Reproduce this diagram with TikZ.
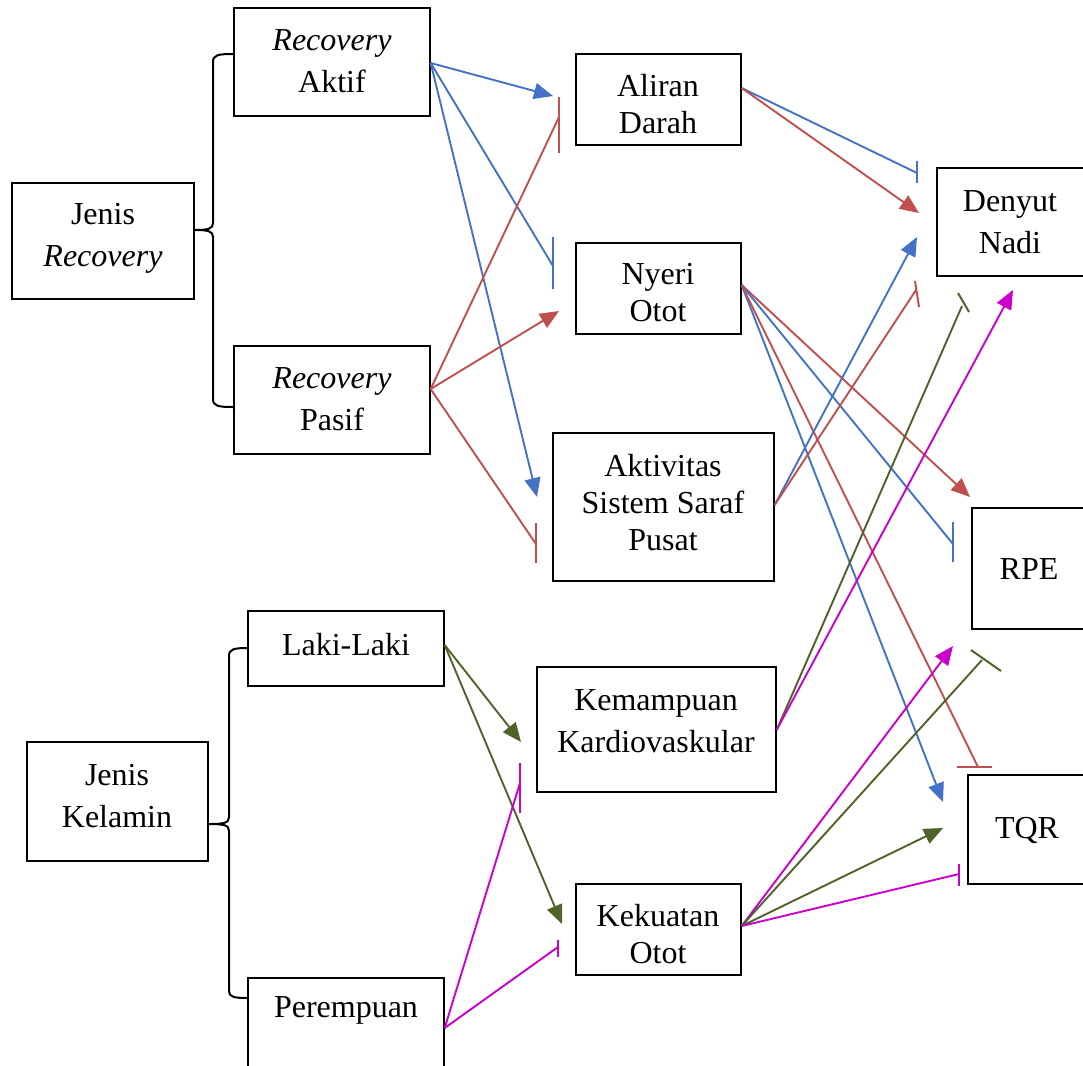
\documentclass[tikz,border=0pt]{standalone}
\usepackage{fontspec}
\setmainfont{Liberation Serif}
\usetikzlibrary{arrows.meta,calc}
\definecolor{cblue}{RGB}{68,114,196}
\definecolor{cred}{RGB}{192,80,77}
\definecolor{cgreen}{RGB}{79,98,40}
\definecolor{cmag}{RGB}{204,0,204}
\begin{document}
\begin{tikzpicture}[x=1pt,y=-1pt,
  box/.style={draw=black, line width=1.3pt, inner sep=0pt, rectangle},
  txt/.style={align=center, inner sep=0pt, font=\fontsize{32}{37}\selectfont},
  txtw/.style={align=center, inner sep=0pt, font=\fontsize{32}{42}\selectfont},
  con/.style={line width=1.9pt},
  arr/.style={line width=1.9pt, -{Triangle[length=19pt,width=16pt]}},
  tbar/.style={line width=2pt},
  brace/.style={line width=2pt, black}]
\useasboundingbox (0,0) rectangle (1083,1065);

% boxes
\node[box, minimum width=182pt, minimum height=116pt] (jrec) at (103,241) {};
\node[box, minimum width=196pt, minimum height=108pt] (aktif) at (332,62) {};
\node[box, minimum width=196pt, minimum height=108pt] (pasif) at (332,400) {};
\node[box, minimum width=165pt, minimum height=91pt] (aliran) at (658.5,99.5) {};
\node[box, minimum width=165pt, minimum height=91pt] (nyeri) at (658.5,288.5) {};
\node[box, minimum width=221pt, minimum height=148pt] (aktiv) at (663.5,507) {};
\node[box, minimum width=149pt, minimum height=108pt] (denyut) at (1011.5,222) {};
\node[box, minimum width=114pt, minimum height=121pt] (rpe) at (1029,568.5) {};
\node[box, minimum width=118pt, minimum height=109pt] (tqr) at (1027,829.5) {};
\node[box, minimum width=239pt, minimum height=125pt] (kemamp) at (656.5,729.5) {};
\node[box, minimum width=196pt, minimum height=75pt] (laki) at (346,648.5) {};
\node[box, minimum width=181pt, minimum height=119pt] (jkel) at (117.5,801.5) {};
\node[box, minimum width=196pt, minimum height=102pt] (perem) at (346,1029) {};
\node[box, minimum width=165pt, minimum height=91pt] (kekuat) at (658.5,929.5) {};

% texts
\node[txtw] (jrecT) at (103,238) {Jenis\\\textit{Recovery}};
\node[txtw] (aktifT) at (332,61) {\textit{Recovery}\\Aktif};
\node[txtw] (pasifT) at (332,399) {\textit{Recovery}\\Pasif};
\node[txt] (aliranT) at (658,104) {Aliran\\Darah};
\node[txt] (nyeriT) at (658,293) {Nyeri\\Otot};
\node[txt] (aktivT) at (663,503) {Aktivitas\\Sistem Saraf\\Pusat};
\node[txtw] (denyutT) at (1010,222) {Denyut\\Nadi};
\node[txt] (rpeT) at (1029,569) {RPE};
\node[txt] (tqrT) at (1027,830) {TQR};
\node[txtw] (kemampT) at (656,721) {Kemampuan\\Kardiovaskular};
\node[txt] (lakiT) at (346,645) {Laki-Laki};
\node[txtw] (jkelT) at (117,796) {Jenis\\Kelamin};
\node[txt] (peremT) at (346,1010) {Perempuan};
\node[txt] (kekuatT) at (658,934) {Kekuatan\\Otot};

% braces
\draw[brace] (233,54) .. controls (218,54) and (213,55) .. (213,62) -- (213,223)
  .. controls (213,229) and (208,230) .. (194,230)
  .. controls (208,230) and (213,231) .. (213,237) -- (213,399)
  .. controls (213,406) and (218,407) .. (233,407);
\draw[brace] (248,648) .. controls (234,648) and (229,649) .. (229,656) -- (229,817)
  .. controls (229,823) and (224,824) .. (208,824)
  .. controls (224,824) and (229,825) .. (229,831) -- (229,991)
  .. controls (229,997) and (234,998) .. (248,998);

% source points
\coordinate (aktifO) at ($(aktif.east)+(0,1)$);
\coordinate (pasifO) at ($(pasif.east)+(0,-11)$);
\coordinate (aliranO) at ($(aliran.east)+(0,-11.5)$);
\coordinate (nyeriO) at ($(nyeri.east)+(0,-3.5)$);
\coordinate (aktivO) at ($(aktiv.east)+(0,-2)$);
\coordinate (kemampO) at ($(kemamp.east)+(0,0.5)$);
\coordinate (lakiO) at ($(laki.east)+(0,-3.5)$);
\coordinate (peremO) at ($(perem.east)+(0,-1)$);
\coordinate (kekuatO) at ($(kekuat.east)+(0,-3.5)$);

% free ends
\coordinate (a1) at (553,96);
\coordinate (b1) at (553,266);
\coordinate (a2) at (537,497);
\coordinate (b2) at (559,117);
\coordinate (a3) at (559,311);
\coordinate (b3) at (536,544);
\coordinate (b4) at (917,173);
\coordinate (a4) at (919,213);
\coordinate (a5) at (970,497);
\coordinate (b5) at (953,544);
\coordinate (a6) at (943,802);
\coordinate (b6) at (978,767);
\coordinate (a7) at (917,237);
\coordinate (b7) at (916,290);
\coordinate (b8) at (962,306);
\coordinate (a8) at (1013,290);
\coordinate (a9) at (521,742);
\coordinate (a10) at (562,924);
\coordinate (b9) at (520,783);
\coordinate (b10) at (558,947);
\coordinate (a11) at (953,646);
\coordinate (b11) at (982,660);
\coordinate (a12) at (943,828);
\coordinate (b12) at (959,874);

% Recovery Aktif (blue)
\draw[arr,cblue] (aktifO) -- (a1);
\draw[con,cblue] (aktifO) -- (b1);
\draw[tbar,cblue] ($(b1)+(0,-29)$) -- ($(b1)+(0,23)$);
\draw[arr,cblue] (aktifO) -- (a2);

% Recovery Pasif (red)
\draw[con,cred] (pasifO) -- (b2);
\draw[tbar,cred] ($(b2)+(0,-20)$) -- ($(b2)+(0,36)$);
\draw[arr,cred] (pasifO) -- (a3);
\draw[con,cred] (pasifO) -- (b3);
\draw[tbar,cred] ($(b3)+(0,-21)$) -- ($(b3)+(0,19)$);

% Aliran Darah
\draw[con,cblue] (aliranO) -- (b4);
\draw[tbar,cblue] ($(b4)+(0,-12)$) -- ($(b4)+(0,10)$);
\draw[arr,cred] (aliranO) -- (a4);

% Nyeri Otot
\draw[arr,cred] (nyeriO) -- (a5);
\draw[con,cblue] (nyeriO) -- (b5);
\draw[tbar,cblue] ($(b5)+(0,-22)$) -- ($(b5)+(0,18)$);
\draw[arr,cblue] (nyeriO) -- (a6);
\draw[con,cred] (nyeriO) -- (b6);
\draw[tbar,cred] ($(b6)+(-21,0)$) -- ($(b6)+(14,0)$);

% Aktivitas Sistem Saraf Pusat
\draw[arr,cblue] (aktivO) -- (a7);
\draw[con,cred] (aktivO) -- (b7);
\draw[tbar,cred] ($(b7)+(-1,-9)$) -- ($(b7)+(3,17)$);

% Kemampuan Kardiovaskular
\draw[con,cgreen] (kemampO) -- (b8);
\draw[tbar,cgreen] ($(b8)+(-4,-13)$) -- ($(b8)+(7,6)$);
\draw[arr,cmag] (kemampO) -- (a8);

% Laki-Laki
\draw[arr,cgreen] (lakiO) -- (a9);
\draw[arr,cgreen] (lakiO) -- (a10);

% Perempuan
\draw[con,cmag] (peremO) -- (b9);
\draw[tbar,cmag] ($(b9)+(0,-20)$) -- ($(b9)+(0,30)$);
\draw[con,cmag] (peremO) -- (b10);
\draw[tbar,cmag] ($(b10)+(0,-7)$) -- ($(b10)+(0,10)$);

% Kekuatan Otot
\draw[arr,cmag] (kekuatO) -- (a11);
\draw[con,cgreen] (kekuatO) -- (b11);
\draw[tbar,cgreen] ($(b11)+(-11,-10)$) -- ($(b11)+(19,11)$);
\draw[arr,cgreen] (kekuatO) -- (a12);
\draw[con,cmag] (kekuatO) -- (b12);
\draw[tbar,cmag] ($(b12)+(0,-10)$) -- ($(b12)+(0,12)$);
\end{tikzpicture}
\end{document}
